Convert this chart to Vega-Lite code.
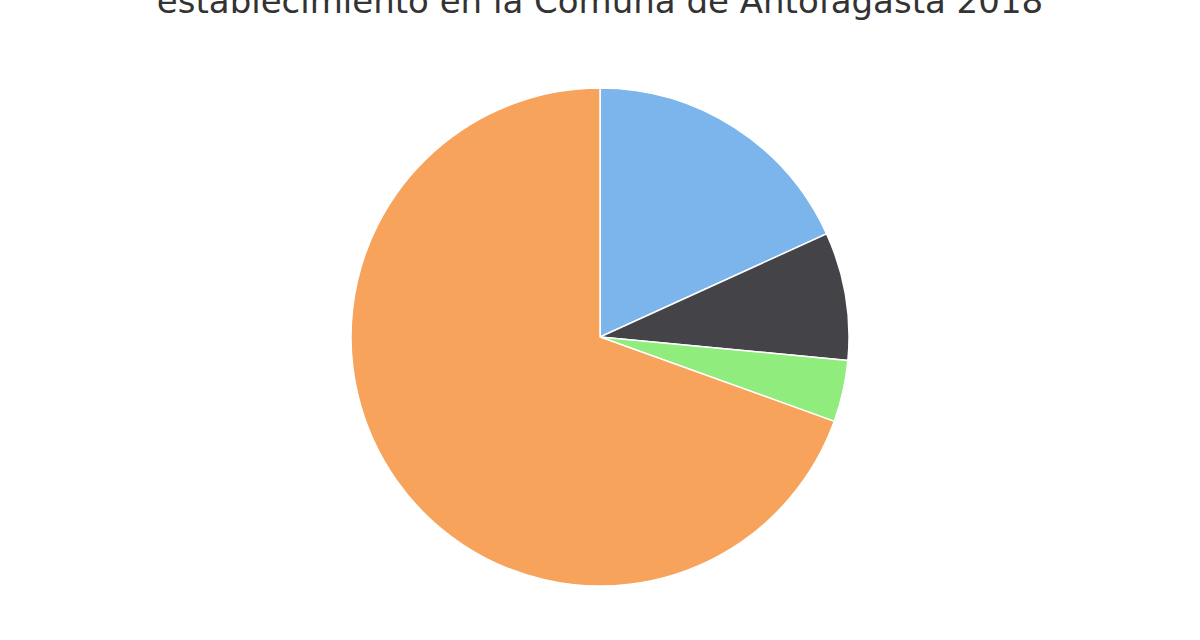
{
  "$schema": "https://vega.github.io/schema/vega-lite/v6.json",
  "autosize": {"type": "fit", "contains": "padding"},
  "width": 1200,
  "height": 640,
  "padding": {"top": -14, "left": 0, "right": 0, "bottom": 0},
  "background": "#ffffff",
  "title": {
    "text": "establecimiento en la Comuna de Antofagasta 2018",
    "font": "DejaVu Sans",
    "fontSize": 34,
    "fontWeight": "normal",
    "color": "#333333",
    "anchor": "middle",
    "offset": 14
  },
  "data": {
    "values": [
      {"dependencia": "Municipal", "porcentaje": 18.2, "orden": 1},
      {"dependencia": "Particular Pagado", "porcentaje": 8.3, "orden": 2},
      {"dependencia": "Corporación de Administración Delegada", "porcentaje": 4.0, "orden": 3},
      {"dependencia": "Particular Subvencionado", "porcentaje": 69.5, "orden": 4}
    ]
  },
  "mark": {"type": "arc", "outerRadius": 249, "stroke": "#ffffff", "strokeWidth": 1.5},
  "encoding": {
    "theta": {"field": "porcentaje", "type": "quantitative", "stack": true},
    "order": {"field": "orden", "type": "ordinal"},
    "color": {
      "field": "dependencia",
      "type": "nominal",
      "sort": ["Municipal", "Particular Pagado", "Corporación de Administración Delegada", "Particular Subvencionado"],
      "scale": {"range": ["#7cb5ec", "#434348", "#90ed7d", "#f7a35c"]},
      "legend": null
    },
    "tooltip": [
      {"field": "dependencia", "title": "Dependencia"},
      {"field": "porcentaje", "title": "%"}
    ]
  },
  "config": {"view": {"stroke": null}}
}
